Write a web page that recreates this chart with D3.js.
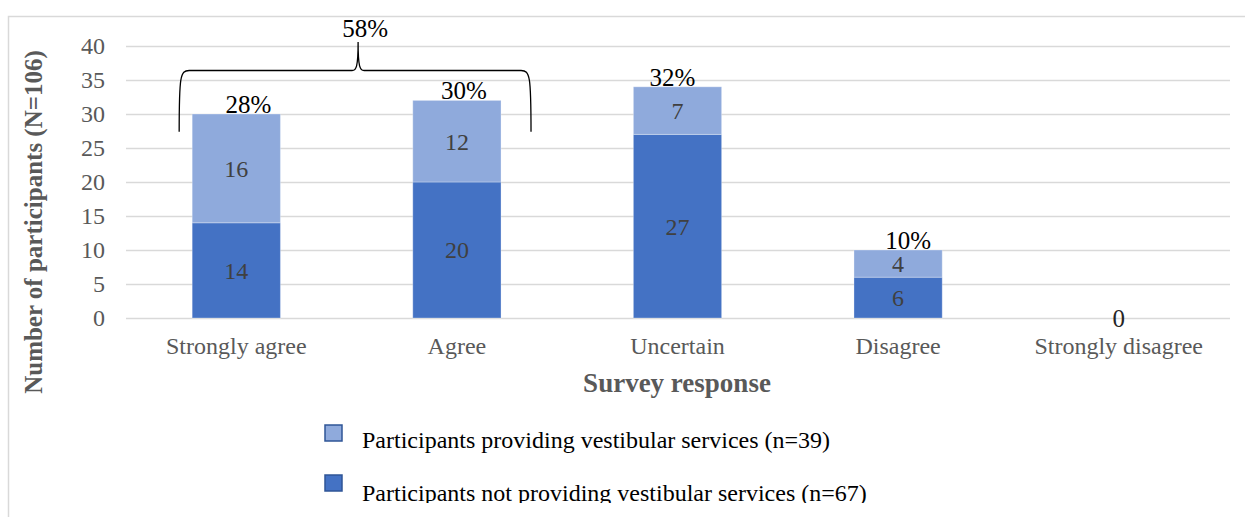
<!DOCTYPE html>
<html>
<head>
<meta charset="utf-8">
<script src="https://cdn.jsdelivr.net/npm/d3@7"></script>
<style>
  html, body { margin: 0; padding: 0; background: #fff; }
  svg { display: block; font-family: "Liberation Serif", "Times New Roman", serif; }
</style>
</head>
<body>
<svg id="chart" width="1245" height="517"></svg>
<script>
// Survey responses, split by whether the participant provides vestibular services
const categories = ["Strongly agree", "Agree", "Uncertain", "Disagree", "Strongly disagree"];
const notProviding = [14, 20, 27, 6, 0];   // n = 67
const providing = [16, 12, 7, 4, 0];       // n = 39
const totalLabels = ["28%", "30%", "32%", "10%", "0"];
const yTicks = [0, 5, 10, 15, 20, 25, 30, 35, 40];
const groupLabel = "58%";
const seriesNames = [
  "Participants providing vestibular services (n=39)",
  "Participants not providing vestibular services (n=67)"
];

const colors = { dark: "#4472C4", light: "#8FAADC" };
const serif = "Liberation Serif, Times New Roman, serif";
const svg = d3.select("#chart");

// chart frame
svg.append("rect")
  .attr("x", 8.5).attr("y", 16.5)
  .attr("width", 1260).attr("height", 540)
  .attr("fill", "#fff").attr("stroke", "#D9D9D9").attr("stroke-width", 1.5);

const x = d3.scaleBand().domain(categories).range([126, 1229])
  .paddingInner(0.6).paddingOuter(0.3);
const y = d3.scaleLinear().domain([0, 40]).range([318, 46]);

// gridlines and y labels
const yAxis = d3.axisLeft(y).tickValues(yTicks).tickSize(-(1230 - 126)).tickPadding(21);
const gy = svg.append("g").attr("transform", "translate(126,0)").call(yAxis);
gy.select(".domain").remove();
gy.selectAll(".tick line").attr("stroke", "#D9D9D9").attr("stroke-width", 1.5);
gy.selectAll(".tick text")
  .attr("fill", "#595959").attr("font-size", 24).attr("font-family", serif);

// x category labels
const xAxis = d3.axisBottom(x).tickSize(0).tickPadding(19);
const gx = svg.append("g").attr("transform", "translate(0,318)").call(xAxis);
gx.select(".domain").remove();
gx.selectAll(".tick text")
  .attr("fill", "#595959").attr("font-size", 24).attr("font-family", serif);

// stacked bars
const rows = categories.map((c, i) => ({ cat: c, notProviding: notProviding[i], providing: providing[i] }));
const stack = d3.stack().keys(["notProviding", "providing"]);
const layers = stack(rows);
const fills = { notProviding: colors.dark, providing: colors.light };

const gBars = svg.append("g");
layers.forEach(layer => {
  const segs = layer.filter(d => d[1] - d[0] > 0);
  gBars.selectAll(null).data(segs).enter()
    .append("rect")
    .attr("x", d => x(d.data.cat))
    .attr("y", d => y(d[1]))
    .attr("width", x.bandwidth())
    .attr("height", d => y(d[0]) - y(d[1]))
    .attr("fill", fills[layer.key])
    .attr("stroke", "rgba(255,255,255,0.3)")
    .attr("stroke-width", 1);

  gBars.selectAll(null).data(segs).enter()
    .append("text")
    .attr("x", d => x(d.data.cat) + x.bandwidth() / 2)
    .attr("y", d => y((d[0] + d[1]) / 2))
    .attr("dy", "0.35em")
    .attr("text-anchor", "middle")
    .attr("fill", "#404040")
    .attr("font-size", 24)
    .text(d => d[1] - d[0]);
});

// total share labels above each stack
const labelNudge = [12, 7, -5, 10, 0];
const totals = rows.map(r => r.notProviding + r.providing);
svg.append("g").selectAll("text").data(categories).enter()
  .append("text")
  .attr("x", (c, i) => x(c) + x.bandwidth() / 2 + labelNudge[i])
  .attr("y", (c, i) => totals[i] > 0 ? y(totals[i]) - 1 : y(0) + 9)
  .attr("text-anchor", "middle")
  .attr("fill", (c, i) => totals[i] > 0 ? "#000" : "#262626")
  .attr("font-size", 25)
  .text((c, i) => totalLabels[i]);

// brace grouping the two agree categories
const bx0 = x(categories[0]) - 13;
const bx1 = x(categories[1]) + x.bandwidth() + 30;
const bmid = (bx0 + bx1) / 2 + 3;
const yEnd = y(27.4), yBar = y(36.4), yTip = y(40.6);
const brace = d3.path();
brace.moveTo(bx0, yEnd);
brace.bezierCurveTo(bx0, yBar + 6, bx0 + 1, yBar, bx0 + 10, yBar);
brace.lineTo(bmid - 6, yBar);
brace.bezierCurveTo(bmid - 2, yBar, bmid, yBar - 3, bmid, yTip);
brace.moveTo(bmid, yTip);
brace.bezierCurveTo(bmid, yBar - 3, bmid + 2, yBar, bmid + 6, yBar);
brace.lineTo(bx1 - 10, yBar);
brace.bezierCurveTo(bx1 - 1, yBar, bx1, yBar + 6, bx1, yEnd);
svg.append("path").attr("d", brace.toString())
  .attr("fill", "none").attr("stroke", "#000").attr("stroke-width", 1.3);
svg.append("text")
  .attr("x", bmid + 7).attr("y", yTip - 5)
  .attr("text-anchor", "middle").attr("font-size", 25).attr("fill", "#000")
  .text(groupLabel);

// axis titles
svg.append("text")
  .attr("x", 677).attr("y", 392)
  .attr("text-anchor", "middle").attr("font-size", 27).attr("font-weight", "bold")
  .attr("fill", "#595959")
  .text("Survey response");
svg.append("text")
  .attr("transform", "translate(42,222) rotate(-90)")
  .attr("text-anchor", "middle").attr("font-size", 25).attr("font-weight", "bold")
  .attr("fill", "#595959")
  .text("Number of participants (N=106)");

// legend, clipped at the bottom of the chart area
svg.append("clipPath").attr("id", "legendClip")
  .append("rect").attr("x", 0).attr("y", 0).attr("width", 1245).attr("height", 503);
const legend = svg.append("g").attr("clip-path", "url(#legendClip)");
const legendItems = [
  { name: seriesNames[0], color: colors.light },
  { name: seriesNames[1], color: colors.dark }
];
legendItems.forEach((item, i) => {
  const ly = 425 + i * 50;
  legend.append("rect")
    .attr("x", 325).attr("y", ly)
    .attr("width", 17).attr("height", 16)
    .attr("fill", item.color).attr("stroke", "#2F5597").attr("stroke-width", 1.5);
  legend.append("text")
    .attr("x", 362).attr("y", ly + 23 + i * 3)
    .attr("font-size", 24).attr("fill", "#000")
    .text(item.name);
});
</script>
</body>
</html>
